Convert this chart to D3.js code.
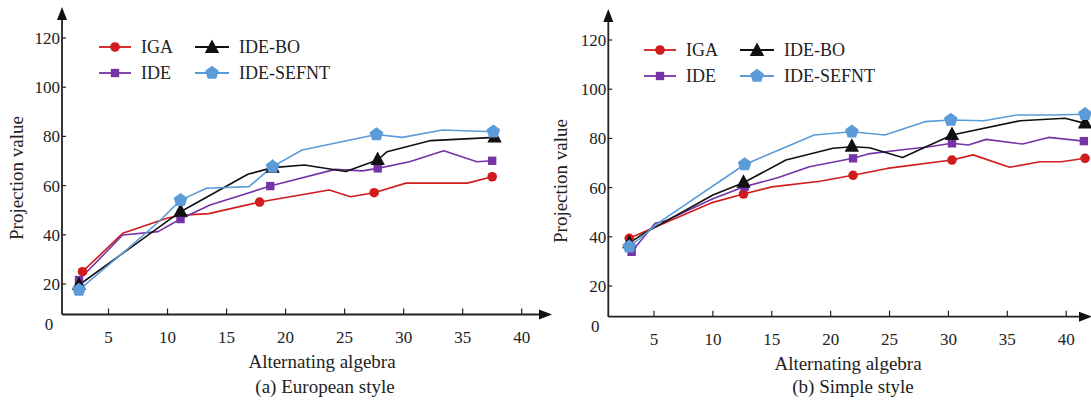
<!DOCTYPE html>
<html lang="en">
<head>
<meta charset="UTF-8">
<title>Projection value vs alternating algebra</title>
<script src="https://d3js.org/d3.v7.min.js"></script>
<style>
    body { margin: 0; background: #fff; }
    svg text { font-family: 'Liberation Serif', 'Times New Roman', serif; fill: #222; }
</style>
</head>
<body>
<svg id="chart" width="1091" height="403"></svg>
<script>
// --- Data ---
const seriesNames = ["IGA", "IDE", "IDE-BO", "IDE-SEFNT"];
const xTicks = [5, 10, 15, 20, 25, 30, 35, 40];
const yTicks = [20, 40, 60, 80, 100, 120];

// (a) European style: [alternating algebra, projection value]
const euIGA = [[2.8, 25.0], [6.2, 40.6], [10.0, 46.8], [11.3, 48.0], [13.5, 48.6], [17.8, 53.3], [23.7, 58.2], [25.5, 55.5], [27.5, 57.1], [30.2, 61.0], [35.4, 61.0], [37.5, 63.6]];
const euIDE = [[2.5, 21.6], [6.2, 39.9], [9.2, 41.3], [11.1, 46.4], [13.6, 52.1], [18.7, 59.8], [24.2, 66.6], [26.5, 66.0], [27.8, 67.0], [30.5, 69.7], [33.4, 74.2], [36.2, 69.7], [37.5, 70.1]];
const euBO = [[2.5, 19.6], [6.5, 33.5], [11.1, 49.4], [16.8, 64.6], [18.9, 67.3], [21.6, 68.4], [25.1, 65.7], [27.8, 70.4], [28.6, 73.8], [32.3, 78.3], [37.7, 79.6]];
const euSEF = [[2.5, 17.6], [6.5, 33.8], [9.3, 45.5], [11.1, 54.1], [13.3, 58.9], [16.9, 59.6], [18.9, 67.7], [21.4, 74.5], [27.7, 80.8], [29.9, 79.6], [33.3, 82.6], [37.6, 81.9]];
const euIGAMarks = [0, 5, 8, 11];
const euIDEMarks = [0, 3, 5, 8, 12];
const euBOMarks = [0, 2, 4, 7, 10];
const euSEFMarks = [0, 3, 6, 8, 11];

// (b) Simple style
const siIGA = [[2.9, 39.4], [10.0, 54.0], [12.6, 57.4], [15.0, 60.3], [19.1, 62.6], [21.9, 65.0], [24.8, 67.8], [30.3, 71.2], [32.1, 73.3], [35.2, 68.3], [37.8, 70.5], [39.6, 70.5], [41.6, 71.9]];
const siIDE = [[3.1, 33.9], [5.1, 45.5], [6.0, 46.5], [10.0, 55.5], [12.7, 60.4], [15.5, 64.0], [18.2, 68.5], [21.9, 71.9], [23.2, 73.7], [25.9, 75.3], [28.4, 76.6], [30.3, 78.0], [31.7, 77.3], [33.2, 79.6], [36.3, 77.7], [38.5, 80.4], [41.5, 78.9]];
const siBO = [[2.9, 37.4], [4.0, 41.0], [10.0, 57.0], [12.6, 62.0], [16.2, 71.2], [20.2, 76.0], [21.8, 76.6], [23.3, 76.2], [26.1, 72.2], [30.3, 81.4], [36.1, 87.2], [39.9, 88.2], [41.6, 86.1]];
const siSEF = [[2.9, 36.0], [3.8, 39.4], [5.5, 46.1], [12.7, 69.4], [18.6, 81.4], [21.8, 82.7], [24.6, 81.4], [28.0, 86.8], [30.2, 87.5], [33.0, 87.2], [35.8, 89.5], [38.9, 89.5], [41.6, 89.8]];
const siIGAMarks = [0, 2, 5, 7, 12];
const siIDEMarks = [0, 4, 7, 11, 16];
const siBOMarks = [0, 3, 6, 9, 12];
const siSEFMarks = [0, 3, 5, 8, 12];

// --- Styles ---
const colors = ["#d01c1c", "#7434a8", "#111111", "#5b9bd8"];
const shapes = ["circle", "square", "triangle", "pentagon"];

const svg = d3.select("#chart");

function markerPath(shape) {
    if (shape === "circle") return d3.symbol(d3.symbolCircle, 72)();
    if (shape === "square") return d3.symbol(d3.symbolSquare, 70)();
    if (shape === "triangle") return "M0,-8.5L7.2,5L-7.2,5Z";
    // pentagon
    const r = 7.2;
    return d3.range(5).map(i => {
        const a = -Math.PI / 2 + i * 2 * Math.PI / 5;
        return (i ? "L" : "M") + (r * Math.cos(a)).toFixed(2) + "," + (r * Math.sin(a)).toFixed(2);
    }).join("") + "Z";
}

function drawPanel(p) {
    const g = svg.append("g");
    const x = d3.scaleLinear().domain([5, 40]).range([p.x5, p.x40]);
    const y = d3.scaleLinear().domain([0, 120]).range([p.y0, p.y120]);

    // axes with arrows
    g.append("line").attr("x1", p.left).attr("x2", p.left).attr("y1", p.bottom).attr("y2", p.top + 10)
        .attr("stroke", "#222").attr("stroke-width", 1.8);
    g.append("path").attr("d", `M${p.left},${p.top}L${p.left + 5},${p.top + 13}L${p.left - 5},${p.top + 13}Z`).attr("fill", "#111");
    g.append("line").attr("x1", p.left).attr("x2", p.right - 10).attr("y1", p.bottom).attr("y2", p.bottom)
        .attr("stroke", "#222").attr("stroke-width", 1.8);
    g.append("path").attr("d", `M${p.right},${p.bottom}L${p.right - 13},${p.bottom - 5}L${p.right - 13},${p.bottom + 5}Z`).attr("fill", "#111");

    // y ticks
    yTicks.forEach(t => {
        g.append("line").attr("x1", p.left).attr("x2", p.left + 4).attr("y1", y(t)).attr("y2", y(t))
            .attr("stroke", "#222").attr("stroke-width", 1.2);
        g.append("text").attr("x", p.left - 2).attr("y", y(t) + 6).attr("text-anchor", "end")
            .style("font-size", "17px").text(t);
    });
    g.append("text").attr("x", p.left - 13).attr("y", p.bottom + 15).attr("text-anchor", "middle")
        .style("font-size", "17px").text("0");

    // x ticks
    xTicks.forEach(t => {
        g.append("line").attr("x1", x(t)).attr("x2", x(t)).attr("y1", p.bottom).attr("y2", p.bottom - 6)
            .attr("stroke", "#222").attr("stroke-width", 1.2);
        g.append("text").attr("x", x(t)).attr("y", p.bottom + 28).attr("text-anchor", "middle")
            .style("font-size", "17px").text(t);
    });

    // titles
    g.append("text").attr("x", p.xTitleX).attr("y", p.bottom + 53).attr("text-anchor", "middle")
        .style("font-size", "19px").text("Alternating algebra");
    g.append("text").attr("x", p.captionX).attr("y", 393).attr("text-anchor", "middle")
        .style("font-size", "19px").text(p.caption);
    g.append("text").attr("transform", `translate(${p.yTitleX},${p.yTitleY}) rotate(-90)`)
        .attr("text-anchor", "middle").style("font-size", "19px").text("Projection value");

    // series
    const line = d3.line().x(d => x(d[0])).y(d => y(d[1]));
    p.series.forEach((s, i) => {
        g.append("path").datum(s.data).attr("d", line).attr("fill", "none")
            .attr("stroke", colors[i]).attr("stroke-width", 1.6).attr("stroke-linejoin", "round");
    });
    p.series.forEach((s, i) => {
        g.selectAll(null).data(s.marks.map(k => s.data[k])).enter().append("path")
            .attr("d", markerPath(shapes[i]))
            .attr("transform", d => `translate(${x(d[0])},${y(d[1])})`)
            .attr("fill", colors[i]);
    });

    // legend
    const lg = g.append("g").attr("transform", `translate(${p.legX},${p.legY})`);
    seriesNames.forEach((name, i) => {
        const col = i < 2 ? 0 : 1;
        const row = i % 2;
        const lx = col * 96, ly = row * 26;
        const len = col ? 34 : 32;
        lg.append("line").attr("x1", lx).attr("x2", lx + len).attr("y1", ly).attr("y2", ly)
            .attr("stroke", colors[i]).attr("stroke-width", 1.8);
        lg.append("path").attr("d", markerPath(shapes[i]))
            .attr("transform", `translate(${lx + len / 2},${ly + (shapes[i] === "triangle" ? 1 : 0)})`)
            .attr("fill", colors[i]);
        lg.append("text").attr("x", lx + len + 10).attr("y", ly + 6).style("font-size", "18px").text(name);
    });
}

drawPanel({
    left: 62, bottom: 314.5, top: 7, right: 552,
    x5: 108.5, x40: 521.7, y0: 333.2, y120: 38,
    xTitleX: 322, captionX: 325, caption: "(a) European style",
    yTitleX: 23, yTitleY: 178,
    legX: 99, legY: 47,
    series: [
        { data: euIGA, marks: euIGAMarks },
        { data: euIDE, marks: euIDEMarks },
        { data: euBO, marks: euBOMarks },
        { data: euSEF, marks: euSEFMarks }
    ]
});

drawPanel({
    left: 608.3, bottom: 316.7, top: 9, right: 1092,
    x5: 654, x40: 1066.2, y0: 335.2, y120: 40,
    xTitleX: 848, captionX: 853, caption: "(b) Simple style",
    yTitleX: 567, yTitleY: 181,
    legX: 644, legY: 50,
    series: [
        { data: siIGA, marks: siIGAMarks },
        { data: siIDE, marks: siIDEMarks },
        { data: siBO, marks: siBOMarks },
        { data: siSEF, marks: siSEFMarks }
    ]
});
</script>
</body>
</html>
